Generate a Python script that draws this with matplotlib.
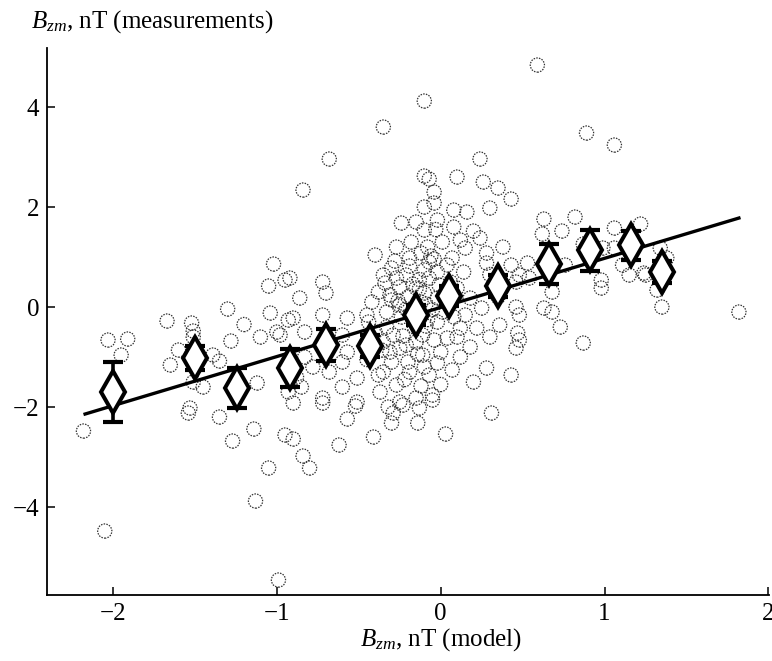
import matplotlib
matplotlib.use("Agg")
import matplotlib.pyplot as plt

plt.rcParams['font.family'] = ['Liberation Serif', 'DejaVu Serif']
plt.rcParams['mathtext.fontset'] = 'custom'
plt.rcParams['mathtext.rm'] = 'Liberation Serif'
plt.rcParams['mathtext.it'] = 'Liberation Serif:italic'

# individual measurements vs model (open circles)
model_x = [
    0.59, -0.10, -0.35, -0.68, -0.84, 0.89, 1.06, 0.24, -0.10, -0.07, 0.10, 0.26, 0.35, 0.43,
    -0.04, -0.04, -0.10, 0.08, 0.16, 0.30, 0.63, 0.82,
    -1.02, -1.05, -0.95, -1.04, -1.00, -0.93, -1.30, -1.67, -1.52, -1.51, -1.28, -2.03, -1.91, -1.95,
    -1.60, -1.65, -1.39, -1.35, -1.51, -1.51, -1.45, -1.12, -1.53, -0.93,
    -2.18, -2.05, -1.54, -1.35, -1.27, -1.14, -1.05, -1.13, -0.99, -0.95, -0.90, -0.90, -0.84, -0.80,
    -0.72, -0.62, -0.57, -0.52, -0.41, -0.32, -0.29, -0.30, -0.25,
    -0.13, -0.14, 0.03, 0.31, -0.05,
    1.22, 1.06, 1.06, 1.34, 1.38, 1.11, 1.15, 1.24, 1.32, 1.35, 1.82, 1.25,
    0.74, 0.62, 0.87, 0.99, 0.24, 0.12, 0.15, 0.28, 0.07, 0.28, 0.43, 0.53, 0.48, 0.76, 0.98, 0.98,
    0.68, 0.63, 0.68, 0.73, 0.87, 0.46, 0.48, 0.36, 0.47, 0.48, 0.46, 0.18, 0.28, 0.43, 0.07, 0.25,
    0.15, 0.12, 0.22, 0.10, 0.18, 0.46, 0.54,
    -0.24, -0.27, -0.40, -0.02, -0.10, -0.12, -0.35, -0.72, -0.70, -0.86, -0.92, -0.90, -0.72, -0.83,
    -0.57, -0.45, -0.60, -0.57, -0.60, -0.68, -0.60, -0.51, -0.72, -0.51, -0.35, -0.37, -0.27, -0.19,
    -0.31, -0.29, -0.21, -0.11, -0.07, -0.05, -0.15, -0.31, -0.25, -0.21, -0.15, -0.07, -0.02, 0.01,
    -0.02, -0.11, 0.04, 0.04, -0.19, -0.07, 0.01,
    -0.38, -0.33, -0.42, -0.28, -0.18, -0.08, -0.20, -0.12, -0.05, -0.16, -0.24, -0.30, -0.20, -0.10,
    0.00, 0.08, 0.06, -0.02, -0.25, -0.35, -0.45, -0.40, -0.15, 0.10, 0.00, -0.22, 0.14, -0.10,
    -0.30, 0.05, -0.08, -0.13, -0.03, 0.08, 0.20, -0.15, 0.12, 0.20, 0.30, 0.35, 0.30, 0.38,
    -0.83, -0.78, -0.88, -0.98, -0.85, -1.10, -1.20,
    -0.26, -0.17, -0.09, -0.01, -0.23, -0.14, -0.04, -0.33, -0.19, -0.10, -0.27, -0.06, -0.36, -0.12,
    -0.02, -0.21, -0.30, -0.09, -0.17, -0.25, -0.04, -0.13, -0.44, -0.38, -0.34, -0.23,
]
meas_y = [
    4.84, 4.12, 3.60, 2.96, 2.34, 3.48, 3.24, 2.96, 2.62, 2.56, 2.60, 2.50, 2.38, 2.16,
    2.30, 2.08, 2.00, 1.94, 1.90, 1.98, 1.76, 1.80,
    0.86, 0.42, 0.54, -0.12, -0.50, -0.26, -0.04, -0.28, -0.32, -0.48, -0.68, -0.66, -0.64, -0.96,
    -0.86, -1.16, -0.96, -1.08, -0.60, -1.50, -1.60, -1.52, -2.02, -1.70,
    -2.48, -4.48, -2.12, -2.20, -2.68, -2.44, -3.22, -3.88, -5.46, -2.56, -2.64, -1.92, -2.98, -3.22,
    -1.92, -2.76, -2.24, -1.98, -2.60, -2.00, -2.12, -2.32, -1.90,
    -2.02, -2.32, -2.54, -2.12, -1.86,
    1.66, 1.58, 1.18, 1.18, 0.98, 0.84, 0.64, 0.68, 0.34, 0.00, -0.10, 0.64,
    1.52, 1.46, 1.26, 1.18, 1.38, 1.34, 1.18, 1.08, 0.98, 0.88, 0.84, 0.88, 0.64, 0.84, 0.54, 0.38,
    0.30, -0.02, -0.10, -0.40, -0.72, 0.00, -0.16, -0.36, -0.52, -0.66, -0.82, -0.80, -1.22, -1.36, -1.26, -0.02,
    -0.16, -0.42, -0.42, 0.38, 0.18, 0.50, 0.58,
    1.68, 1.20, 1.04, 1.74, 1.54, 1.08, 0.64, 0.50, 0.28, 0.18, 0.58, -0.22, -0.16, -0.50,
    -0.22, -0.16, -0.56, -0.90, -1.10, -1.30, -1.60, -1.42, -1.82, -1.90, -1.30, -1.70, -1.56, -1.30,
    -0.90, -0.56, -0.76, -0.96, -1.36, -1.76, -1.82, 0.24, 0.04, 0.64, 0.38, 0.58, 0.18, -0.10,
    -0.30, -0.56, -0.62, 0.84, 0.98, 0.90, 1.30,
    0.30, -0.40, 0.10, 0.92, 1.30, 1.20, 0.20, 0.10, -0.05, -0.40, -0.20, -1.10, -1.10, -1.20,
    -0.90, -0.20, 0.50, 0.70, 0.40, -0.70, -1.05, -0.50, -0.70, -0.60, -1.55, -1.45, 0.70, 0.74,
    0.78, 0.30, -0.25, 0.55, 1.55, 1.60, 1.52, 1.70, -1.00, -1.50, -0.60, 0.20, 0.65, 1.20,
    -1.00, -1.20, -1.40, -0.56, -1.60, -0.60, -0.35,
    0.12, 0.46, -0.38, 0.44, -0.58, -0.94, -0.66, -0.10, 0.82, 0.28, 0.58, 1.02, -0.86, -1.58,
    -1.12, -0.04, 0.14, 0.06, -0.24, -0.82, 0.96, 0.36, -0.30, -1.36, 0.48, -1.96,
]

# binned means with error bars (diamonds)
bin_x = [-2.00, -1.50, -1.24, -0.92, -0.70, -0.43, -0.15, 0.05, 0.35, 0.66, 0.91, 1.16, 1.35]
bin_y = [-1.70, -1.02, -1.62, -1.22, -0.76, -0.78, -0.16, 0.22, 0.42, 0.86, 1.14, 1.24, 0.70]
bin_err = [0.60, 0.24, 0.40, 0.38, 0.32, 0.22, 0.20, 0.20, 0.22, 0.40, 0.41, 0.29, 0.22]

# linear fit endpoints
fit_x = [-2.17, 1.82]
fit_y = [-2.14, 1.78]

x_ticks = [-2, -1, 0, 1, 2]
y_ticks = [-4, -2, 0, 2, 4]

fig = plt.figure(figsize=(7.72, 6.61), dpi=100)
ax = fig.add_axes([0.0614, 0.0998, 0.935, 0.8275])

ax.scatter(model_x, meas_y, s=105, facecolors='none', edgecolors='#333333',
           linewidths=0.9, linestyles=(0, (1.2, 1.0)), zorder=1)
ax.plot(fit_x, fit_y, color='black', lw=2.4, zorder=2)
ax.errorbar(bin_x, bin_y, yerr=bin_err, fmt='none', ecolor='black', elinewidth=2.6,
            capsize=7, capthick=3.0, zorder=3)
ax.plot(bin_x, bin_y, linestyle='none', marker='d', markersize=21, markerfacecolor='white',
        markeredgecolor='black', markeredgewidth=2.9, zorder=4)

ax.set_xlim(-2.40, 2.005)
ax.set_ylim(-5.76, 5.18)
ax.set_xticks(x_ticks)
ax.set_yticks(y_ticks)
ax.spines['top'].set_visible(False)
ax.spines['right'].set_visible(False)
for side in ['left', 'bottom']:
    ax.spines[side].set_linewidth(1.3)
ax.tick_params(direction='in', length=6, width=1.1, labelsize=18, pad=6)

fig.text(0.04, 0.968, r'$B_{zm}$, nT (measurements)', fontsize=18, ha='left', va='center')
fig.text(0.571, 0.032, r'$B_{zm}$, nT (model)', fontsize=18, ha='center', va='center')

fig.savefig('out.png', dpi=100)
